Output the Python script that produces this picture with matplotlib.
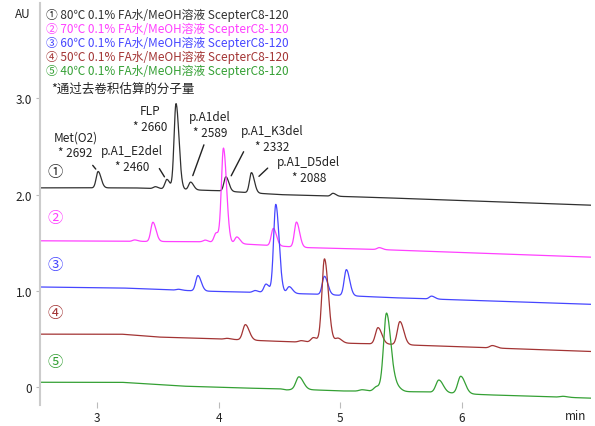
import numpy as np
import matplotlib.pyplot as plt

plt.rcParams['font.family'] = ['Noto Sans CJK SC', 'DejaVu Sans']

# time axis of the chromatogram (min)
t = np.linspace(2.53, 7.06, 4000)

labels = ['① 80℃ 0.1% FA水/MeOH溶液 ScepterC8-120',
          '② 70℃ 0.1% FA水/MeOH溶液 ScepterC8-120',
          '③ 60℃ 0.1% FA水/MeOH溶液 ScepterC8-120',
          '④ 50℃ 0.1% FA水/MeOH溶液 ScepterC8-120',
          '⑤ 40℃ 0.1% FA水/MeOH溶液 ScepterC8-120']
tags = ['①', '②', '③', '④', '⑤']
tag_y = [2.245, 1.765, 1.27, 0.77, 0.27]
colors = ['#303030', '#ff40ff', '#4646ff', '#a33434', '#34a034']
widths = [0.016, 0.017, 0.018, 0.021, 0.024]

# baselines (knots)
base_t1 = [2.53, 3.3, 4.0, 4.5, 5.3, 7.06]
base_v1 = [2.07, 2.07, 2.04, 2.00, 1.97, 1.89]
base_t2 = [2.53, 3.85, 4.3, 4.7, 5.3, 7.06]
base_v2 = [1.52, 1.51, 1.48, 1.45, 1.43, 1.35]
base_t3 = [2.53, 3.2, 3.8, 4.4, 4.8, 5.4, 7.06]
base_v3 = [1.04, 1.03, 1.00, 0.98, 0.965, 0.93, 0.86]
base_t4 = [2.53, 3.2, 3.5, 4.0, 4.6, 5.4, 7.06]
base_v4 = [0.55, 0.55, 0.52, 0.50, 0.47, 0.445, 0.37]
base_t5 = [2.53, 3.2, 3.7, 4.2, 4.6, 5.0, 5.7, 6.2, 7.06]
base_v5 = [0.05, 0.05, 0.01, -0.01, -0.02, -0.04, -0.05, -0.08, -0.115]

# peaks: retention time (min) and height (AU)
rt1 = [3.01, 3.48, 3.575, 3.65, 3.77, 4.06, 4.27, 4.94]
h1 = [0.17, 0.02, 0.10, 0.89, 0.08, 0.15, 0.21, 0.03]
rt2 = [3.31, 3.46, 3.89, 3.98, 4.04, 4.15, 4.45, 4.64, 5.32]
h2 = [0.015, 0.20, 0.02, 0.10, 0.98, 0.07, 0.18, 0.26, 0.02]
rt3 = [3.67, 3.83, 4.30, 4.39, 4.47, 4.58, 4.87, 5.05, 5.75]
h3 = [0.01, 0.16, 0.02, 0.09, 0.92, 0.07, 0.19, 0.27, 0.03]
rt4 = [4.07, 4.22, 4.68, 4.78, 4.87, 4.98, 5.31, 5.49, 6.25]
h4 = [0.01, 0.16, 0.015, 0.05, 0.87, 0.05, 0.17, 0.24, 0.025]
rt5 = [4.56, 4.66, 5.18, 5.30, 5.38, 5.46, 5.81, 5.99, 6.83]
h5 = [-0.01, 0.13, 0.015, 0.05, 0.81, 0.05, 0.13, 0.18, 0.01]

bases = [(base_t1, base_v1), (base_t2, base_v2), (base_t3, base_v3),
         (base_t4, base_v4), (base_t5, base_v5)]
peaks = [(rt1, h1), (rt2, h2), (rt3, h3), (rt4, h4), (rt5, h5)]

# peak names on trace 1: text centre, leader line start, leader line end
ann_text = ['Met(O2)\n* 2692', 'p.A1_E2del\n* 2460', 'FLP\n* 2660',
            'p.A1del\n* 2589', 'p.A1_K3del\n* 2332', 'p.A1_D5del\n* 2088']
ann_xy = [(2.825, 2.52), (3.288, 2.373), (3.44, 2.793),
          (3.929, 2.731), (4.44, 2.586), (4.742, 2.264)]
line_from = [(2.951, 2.326), (3.501, 2.295), None,
             (3.887, 2.544), (4.216, 2.471), (4.42, 2.295)]
line_to = [(3.005, 2.243), (3.567, 2.16), None,
           (3.78, 2.17), (4.093, 2.17), (4.315, 2.17)]


def trace(rt, h, s, bt, bv):
    y = np.interp(t, bt, bv)
    for r, hh in zip(rt, h):
        sig = np.where(t < r, s, s * 1.5)
        y = y + hh * np.exp(-0.5 * ((t - r) / sig) ** 2)
    return y


fig = plt.figure(figsize=(5.95, 4.27), dpi=100)
ax = fig.add_axes([0.068, 0.049, 0.925, 0.941])

for i in range(5):
    y = trace(peaks[i][0], peaks[i][1], widths[i], bases[i][0], bases[i][1])
    ax.plot(t, y, color=colors[i], lw=0.9)
    ax.text(2.655, tag_y[i], tags[i], color=colors[i], fontsize=11,
            ha='center', va='center')
    fig.text(46 / 595, 1 - (15.5 + 14 * i) / 427, labels[i], color=colors[i],
             fontsize=8.5, ha='left', va='center')

fig.text(51 / 595, 1 - 89 / 427, '*通过去卷积估算的分子量', color='#222222',
         fontsize=9, ha='left', va='center')

for txt, xy, a, b in zip(ann_text, ann_xy, line_from, line_to):
    ax.text(xy[0], xy[1], txt, fontsize=8.5, ha='center', va='center',
            multialignment='center', linespacing=1.3, color='#222222')
    if a is not None:
        ax.annotate('', xy=b, xytext=a,
                    arrowprops=dict(arrowstyle='-', color='#222222', lw=1))

ax.set_xlim(2.536, 7.059)
ax.set_ylim(-0.187, 3.988)
ax.set_xticks([3, 4, 5, 6])
ax.set_xticklabels(['3', '4', '5', '6'])
ax.set_yticks([0, 1, 2, 3])
ax.set_yticklabels(['0', '1.0', '2.0', '3.0'])

for s in ['top', 'right', 'bottom']:
    ax.spines[s].set_visible(False)
ax.spines['left'].set_color('#cccccc')
ax.spines['left'].set_linewidth(1.5)
ax.tick_params(axis='x', direction='inout', length=5, color='#bbbbbb',
               labelsize=8.5, labelcolor='#222222', pad=2)
ax.tick_params(axis='y', direction='out', length=3, color='#bbbbbb',
               labelsize=8.5, labelcolor='#222222', pad=3)

fig.text(23 / 595, 1 - 15 / 427, 'AU', fontsize=8.5, ha='center', va='center',
         color='#222222')
fig.text(576 / 595, 1 - 417 / 427, 'min', fontsize=8.5, ha='center',
         va='center', color='#222222')

fig.savefig('out.png', dpi=100)
